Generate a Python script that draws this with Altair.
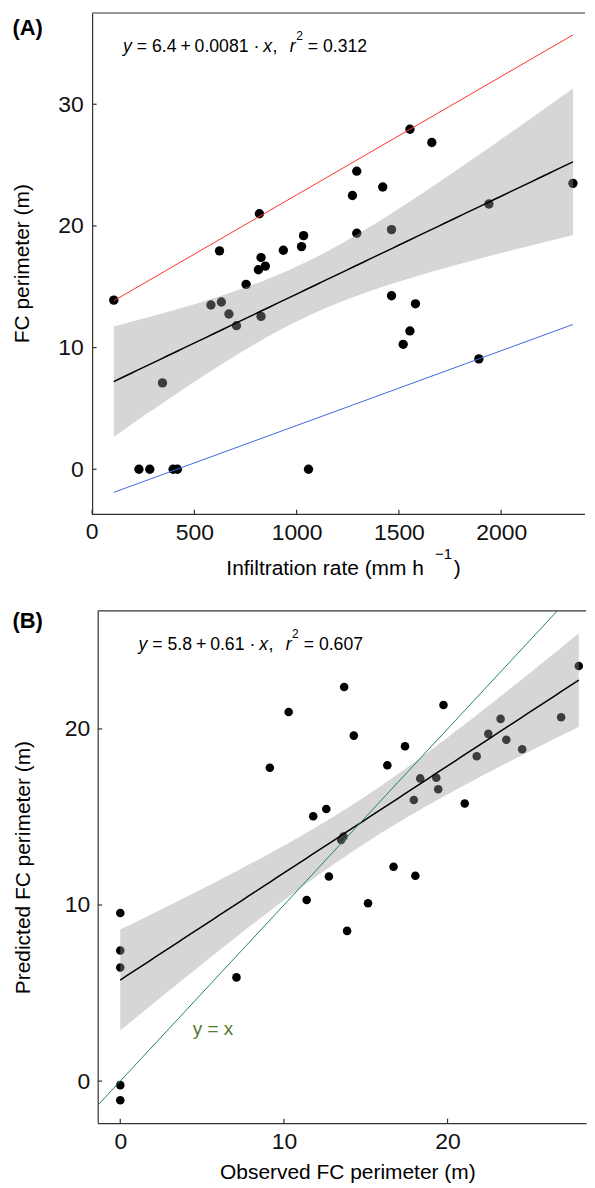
import altair as alt
import numpy as np
import pandas as pd

# ---------------- Panel A data ----------------
infiltration = [106, 229, 282, 396, 417, 344, 581, 623, 632, 669, 706, 753, 813, 818,
                826, 826, 847, 935, 1024, 1034, 1058, 1273, 1294, 1294, 1421, 1464,
                1464, 1521, 1554, 1554, 1581, 1661, 1891, 1940, 2351]
fc_perimeter = [13.9, 0, 0, 0, 0, 7.1, 13.5, 17.95, 13.75, 12.76, 11.8, 15.2, 16.4, 21.0,
                17.4, 12.57, 16.7, 18.0, 18.3, 19.2, 0, 22.5, 24.5, 19.4, 23.2, 19.7,
                14.26, 10.27, 27.95, 11.37, 13.6, 26.86, 9.07, 21.8, 23.5]
upper_line_x = [106, 2351]
upper_line_y = [13.85, 35.7]
lower_line_x = [106, 2351]
lower_line_y = [-1.9, 11.9]
a_xticks = [0, 500, 1000, 1500, 2000]
a_yticks = [0, 10, 20, 30]

# ---------------- Panel B data ----------------
observed = [0, 0, 0, 0, 0, 7.1, 9.14, 10.29, 11.39, 11.79, 12.59, 12.75, 13.5, 13.64,
            13.68, 13.86, 14.27, 15.14, 16.32, 16.7, 17.4, 17.94, 18.03, 18.33, 19.31,
            19.43, 19.75, 21.05, 21.78, 22.49, 23.24, 23.59, 24.56, 26.94, 28.02]
predicted = [9.55, 7.42, 6.45, -0.23, -1.09, 5.89, 17.8, 20.96, 10.28, 15.04, 15.45, 11.62,
             13.7, 13.89, 22.38, 8.53, 19.62, 10.1, 17.94, 12.17, 19.02, 15.96, 11.66,
             17.19, 17.23, 16.57, 21.36, 15.76, 18.45, 19.72, 20.57, 19.38, 18.85, 20.66,
             23.57]
identity_line = [-5, 35]
b_xticks = [0, 10, 20]
b_yticks = [0, 10, 20]

FONT = "Liberation Sans"
AXC = "#333333"
LABEL_FS = 23


def fit_band(xs, ys, n_grid=80, t=2.0345):
    x = np.asarray(xs, float)
    y = np.asarray(ys, float)
    n = len(x)
    b1, b0 = np.polyfit(x, y, 1)
    resid = y - (b0 + b1 * x)
    s = np.sqrt(np.sum(resid ** 2) / (n - 2))
    xbar = x.mean()
    sxx = np.sum((x - xbar) ** 2)
    g = np.linspace(x.min(), x.max(), n_grid)
    fit = b0 + b1 * g
    se = s * np.sqrt(1.0 / n + (g - xbar) ** 2 / sxx)
    return pd.DataFrame({"x": g, "fit": fit, "lo": fit - t * se, "hi": fit + t * se})


WID = {str(d): 0.556 for d in range(10)}
WID.update({".": 0.278, ",": 0.278, "=": 0.584, "+": 0.584, "·": 0.278,
            "x": 0.5, "y": 0.5, "r": 0.333})


def txt(label, x, y, size, align="left", baseline="alphabetic", style=None, weight=None,
        color="black", angle=None):
    kw = dict(align=align, baseline=baseline, font=FONT, fontSize=size, color=color)
    if style:
        kw["fontStyle"] = style
    if weight:
        kw["fontWeight"] = weight
    if angle is not None:
        kw["angle"] = angle
    return alt.Chart(pd.DataFrame({"label": [label]})).mark_text(**kw).encode(
        x=alt.value(x), y=alt.value(y), text="label:N")


def equation_layers(tokens, x0, y0, fs=17.7, sup_fs=12):
    gaps = {"=": 0.28, "+": 0.22, "·": 0.28}
    layers = []
    cur = x0
    prev = None
    for tok, style in tokens:
        if prev is None:
            gap = 0
        elif style == "sup":
            gap = 0.03
        elif tok == ",":
            gap = 0.02
        elif tok == "r":
            gap = 0.7
        elif tok in gaps or prev in gaps:
            gap = gaps.get(tok, gaps.get(prev, 0.28))
        else:
            gap = 0.28
        cur += gap * fs
        size = sup_fs if style == "sup" else fs
        ypos = y0 - 11.5 if style == "sup" else y0
        layers.append(txt(tok, cur, ypos, size, style="italic" if style == "it" else None))
        cur += sum(WID.get(c, 0.556) for c in tok) * size
        prev = tok
    return layers


def panel(xv, yv, xs, ys, W, H, xticks, yticks, ytitle, ytitle_x, yoff, ylabpad,
          pt_size, letter, letter_pos, eq_tokens, eq_x0, extra_lines, extra_marks):
    pts = pd.DataFrame({"x": xv, "y": yv})
    band = fit_band(xv, yv)
    common = dict(ticks=False, tickSize=0, grid=False, format="d", domainColor=AXC,
                  domainWidth=1.2, labelFont=FONT, labelFontSize=LABEL_FS,
                  labelColor="#111111", labelFlush=False)
    xaxis = alt.Axis(values=xticks, title=None, labelPadding=7, domain=(yoff == 0), **common)
    if ytitle is None:
        yaxis = alt.Axis(values=yticks, title=None, labelPadding=ylabpad, offset=yoff, **common)
    else:
        yaxis = alt.Axis(values=yticks, title=ytitle, labelPadding=ylabpad, offset=yoff,
                         titleX=ytitle_x, titleY=H / 2, titleBaseline="middle",
                         titleAlign="center", titleFont=FONT, titleFontSize=21,
                         titleFontWeight="normal", titleColor="black", **common)

    def X(f):
        return alt.X(f, scale=xs, axis=xaxis)

    def Y(f):
        return alt.Y(f, scale=ys, axis=yaxis)

    points = alt.Chart(pts).mark_circle(size=pt_size, color="black", opacity=1).encode(
        x=X("x:Q"), y=Y("y:Q"))
    area = alt.Chart(band).mark_area(color="#999999", opacity=0.4).encode(
        x=X("x:Q"), y=Y("lo:Q"), y2="hi:Q")
    fitl = alt.Chart(band).mark_line(color="black", strokeWidth=1.5).encode(
        x=X("x:Q"), y=Y("fit:Q"))
    lines = []
    for (lx, ly, col) in extra_lines:
        lines.append(alt.Chart(pd.DataFrame({"x": lx, "y": ly})).mark_line(
            color=col, strokeWidth=1, clip=True).encode(x=X("x:Q"), y=Y("y:Q")))
    frame = [alt.Chart(pd.DataFrame({"a": [0]})).mark_rule(color=AXC, strokeWidth=1.2).encode(
        x=alt.value(-yoff), x2=alt.value(W), y=alt.value(0))]
    if yoff:
        frame.append(alt.Chart(pd.DataFrame({"a": [0]})).mark_rule(
            color=AXC, strokeWidth=1.2).encode(x=alt.value(-yoff), x2=alt.value(W),
                                               y=alt.value(H)))
    xt = alt.Chart(pd.DataFrame({"x": xticks})).mark_rule(color=AXC, strokeWidth=1.2).encode(
        x=X("x:Q"), y=alt.value(H), y2=alt.value(H - 4.5))
    yt = alt.Chart(pd.DataFrame({"y": yticks})).mark_rule(color=AXC, strokeWidth=1.2).encode(
        y=Y("y:Q"), x=alt.value(-yoff), x2=alt.value(-yoff + 4.5))
    lab = txt(letter, letter_pos[0], letter_pos[1], 22, weight="bold")
    eq = equation_layers(eq_tokens, eq_x0, 39)
    return alt.layer(points, area, fitl, *lines, *frame, xt, yt, lab, *extra_marks,
                     *eq).properties(width=W, height=H)


tokA = [("y", "it"), ("=", "rm"), ("6.4", "rm"), ("+", "rm"), ("0.0081", "rm"), ("·", "rm"),
        ("x", "it"), (",", "rm"), ("r", "it"), ("2", "sup"), ("=", "rm"), ("0.312", "rm")]
tokB = [("y", "it"), ("=", "rm"), ("5.8", "rm"), ("+", "rm"), ("0.61", "rm"), ("·", "rm"),
        ("x", "it"), (",", "rm"), ("r", "it"), ("2", "sup"), ("=", "rm"), ("0.607", "rm")]

# ---- Panel A (plot area starts 5.6px right of its drawn y-axis) ----
OFF = 5.6
WA, HA = 489, 503
titlesA = [txt("Infiltration rate (mm h", 129.1, HA + 61, 21),
           txt("−1", 338.4, HA + 45, 15),
           txt(")", 357.4, HA + 61, 21),
           txt("FC perimeter (m)", -74.6, HA / 2, 21, align="center", baseline="middle",
               angle=270),
           # tick label for the x = 0 tick, which sits on the offset y-axis line
           txt(str(a_xticks[0]), -OFF, HA + 7, LABEL_FS, align="center", baseline="top",
               color="#111111")]
xsA = alt.Scale(domain=[27.3, 2410], nice=False, zero=False)
ysA = alt.Scale(domain=[-3.7, 37.5], nice=False, zero=False)
chartA = panel(infiltration, fc_perimeter, xsA, ysA, WA, HA, a_xticks, a_yticks,
               None, 0, OFF, 9, 88, "(A)", (-85.6, 21.7), tokA, 25.4,
               [(upper_line_x, upper_line_y, "#ff3030"), (lower_line_x, lower_line_y, "#4169e1")],
               titlesA)

# ---- Panel B ----
WB, HB = 490, 514
xsB = alt.Scale(domain=[-1.38, 28.46], nice=False, zero=False)
ysB = alt.Scale(domain=[-2.39, 26.7], nice=False, zero=False)
extrasB = [txt("y = x", 115.7, 420, 19, align="center", baseline="middle", color="#4f7b2c"),
           txt("Observed FC perimeter (m)", 251, HB + 56, 21, align="center")]
chartB = panel(observed, predicted, xsB, ysB, WB, HB, b_xticks, b_yticks,
               "Predicted FC perimeter (m)", -74.3, 0, 8, 74, "(B)", (-85.6, 16.7), tokB, 41,
               [(identity_line, identity_line, "#1f8a4c")], extrasB)

chart = alt.concat(chartA, chartB, columns=1, spacing=30, bounds="full").properties(
    padding={"left": 4, "top": 2, "right": 0, "bottom": 0}
).configure_view(strokeWidth=0)

chart.save("out.html", embed_options={"renderer": "svg", "actions": False})
